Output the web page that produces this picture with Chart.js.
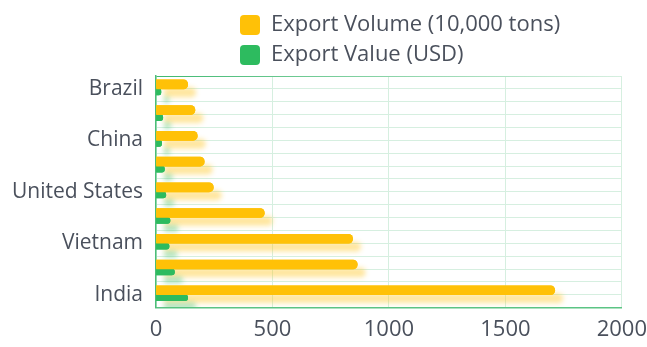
<!DOCTYPE html>
<html>
<head>
<meta charset="utf-8">
<script src="https://cdn.jsdelivr.net/npm/chart.js@4/dist/chart.umd.min.js"></script>
<style>
  html, body { margin: 0; padding: 0; background: #ffffff; }
  #wrap { width: 647px; height: 347px; }
</style>
</head>
<body>
<div id="wrap"><canvas id="c" width="647" height="347"></canvas></div>
<script>
const categories = ['Brazil', 'Cambodia', 'China', 'Myanmar', 'United States', 'Pakistan', 'Vietnam', 'Thailand', 'India'];
const exportVolume = [136, 167, 177, 207, 246, 465, 844, 864, 1712];
const exportValue = [21, 29, 24, 36, 42, 60, 56, 79, 136];
const seriesNames = ['Export Volume (10,000 tons)', 'Export Value (USD)'];
const xMin = 0, xMax = 2000, xStep = 500;

const TEXT = '#4a505c';
const FONT = "'Open Sans', 'Noto Sans', sans-serif";
const YELLOW = '#FFC107';
const GREEN = '#2DBB5F';

const shadowPlugin = {
  id: 'barShadow',
  beforeDatasetsDraw(chart) {
    const ctx = chart.ctx;
    const a = chart.chartArea;
    chart.data.datasets.forEach((ds, i) => {
      const meta = chart.getDatasetMeta(i);
      ctx.save();
      ctx.beginPath();
      ctx.rect(a.left, a.top, a.right - a.left, a.bottom - a.top);
      ctx.clip();
      ctx.shadowColor = ds.shadowTint;
      ctx.shadowBlur = 5;
      ctx.shadowOffsetX = 8;
      ctx.shadowOffsetY = 8;
      meta.data.forEach(el => el.draw(ctx));
      ctx.restore();
    });
  }
};

// legend: wrap into two rows, both starting at the same x
const legendPlace = {
  id: 'legendPlace',
  afterInit(chart) {
    const lg = chart.legend;
    if (!lg) return;
    const orig = lg.update;
    lg.update = function (maxWidth, maxHeight, margins) {
      orig.call(this, Math.min(maxWidth, 420), maxHeight, margins);
    };
  },
  afterLayout(chart) {
    const lg = chart.legend;
    if (lg) { lg.left = 232; }
  }
};

function topLineColor(ctx) {
  const chart = ctx.chart;
  const a = chart.chartArea;
  if (ctx.index === 0 && a) {
    const g = chart.ctx.createLinearGradient(a.left, 0, a.right, 0);
    g.addColorStop(0, '#3fb970');
    g.addColorStop(1, '#d6efe0');
    return g;
  }
  return '#d6efe0';
}

new Chart(document.getElementById('c'), {
  type: 'bar',
  data: {
    labels: categories,
    datasets: [
      {
        label: seriesNames[0],
        data: exportVolume,
        backgroundColor: YELLOW,
        shadowTint: 'rgba(255, 200, 40, 0.45)',
        barThickness: 9,
        borderRadius: 5,
        borderSkipped: 'start'
      },
      {
        label: seriesNames[1],
        data: exportValue,
        backgroundColor: GREEN,
        shadowTint: 'rgba(60, 190, 100, 0.4)',
        barThickness: 6,
        borderRadius: 4,
        borderSkipped: 'start'
      }
    ]
  },
  options: {
    indexAxis: 'y',
    responsive: false,
    animation: false,
    devicePixelRatio: 1,
    layout: { padding: { top: 6, left: -1, right: 0, bottom: -5 } },
    plugins: {
      tooltip: { enabled: false },
      legend: {
        position: 'top',
        align: 'start',
        labels: {
          color: TEXT,
          font: { family: FONT, size: 22 },
          boxWidth: 20,
          boxHeight: 20,
          useBorderRadius: true,
          borderRadius: 4,
          padding: 8
        }
      }
    },
    scales: {
      x: {
        min: xMin,
        max: xMax,
        ticks: {
          stepSize: xStep,
          color: TEXT,
          font: { family: FONT, size: 22 },
          padding: 9,
          callback: (v) => String(v)
        },
        afterFit: (s) => { s.paddingRight = Math.max(0, s.paddingRight - 9); },
        grid: { color: '#d6efe0', drawTicks: false, lineWidth: 1 },
        border: { display: true, color: '#5cc484', width: 1.5 }
      },
      y: {
        type: 'category',
        offset: true,
        ticks: {
          autoSkip: false,
          color: TEXT,
          font: { family: FONT, size: 21 },
          padding: 13,
          callback: function (v, i) { return i % 2 === 0 ? this.getLabelForValue(v) : ''; }
        },
        grid: { offset: true, drawTicks: false, color: topLineColor, lineWidth: 1 },
        border: { display: true, color: '#4cbd78', width: 1.5 }
      },
      y2: {
        type: 'category',
        position: 'right',
        offset: true,
        ticks: { display: false },
        grid: { offset: false, drawTicks: false, color: '#d6efe0', lineWidth: 1 },
        border: { display: false }
      }
    }
  },
  plugins: [shadowPlugin, legendPlace]
});
</script>
</body>
</html>
